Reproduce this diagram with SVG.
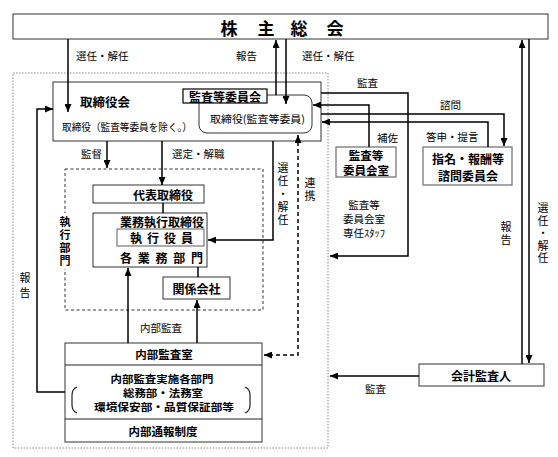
<svg xmlns="http://www.w3.org/2000/svg" width="558" height="457" viewBox="0 0 558 457">
<defs>
<marker id="arr" markerUnits="userSpaceOnUse" markerWidth="8" markerHeight="7" refX="8" refY="3.5" orient="auto-start-reverse"><path d="M0,0 L8,3.5 L0,7 z" fill="#000"/></marker>
</defs>
<style>
text{font-family:"Noto Sans CJK JP","Noto Sans CJK SC",sans-serif;fill:#000;dominant-baseline:central}
.b{font-weight:bold}
.box{fill:#fff;stroke:#333;stroke-width:1}
.gbox{fill:#fff;stroke:#777;stroke-width:1.3}
.ln{fill:none;stroke:#000;stroke-width:1.5}
.ar{marker-end:url(#arr)}
.dash{stroke-dasharray:4 3}
.lbl{font-size:10.5px}
.t12{font-size:12px;font-weight:bold;text-anchor:middle}
.t11{font-size:11.5px;font-weight:bold;text-anchor:middle}
.t10{font-size:10.5px;font-weight:bold;text-anchor:middle}
.v{font-size:10.5px;text-anchor:middle}
.vt{font-size:11px;writing-mode:vertical-rl;letter-spacing:2px}
</style>
<rect x="0" y="0" width="558" height="457" fill="#fff"/>
<rect id="outer" x="13" y="73" width="315" height="375" fill="none" stroke="#888" stroke-width="1" stroke-dasharray="1.5 1.5"/>

<g id="shareholders">
<rect class="box" x="13" y="14" width="535" height="25" stroke-width="1.2"/>
<text class="b" font-size="17" text-anchor="middle" x="229 266 299 335" y="27">株主総会</text>
</g>

<g id="board">
<rect class="box" x="53" y="82" width="268" height="59"/>
<text class="b" font-size="12.5" x="80" y="101">取締役会</text>
<text font-size="10.5" x="62" y="126" textLength="130" lengthAdjust="spacingAndGlyphs">取締役（監査等委員を除く。）</text>
</g>

<g id="audit-directors">
<rect class="box" x="199" y="95" width="113" height="38" rx="8"/>
<text font-size="10.5" x="210" y="118" textLength="95" lengthAdjust="spacingAndGlyphs">取締役(監査等委員)</text>
</g>

<g id="audit-committee">
<rect x="183" y="89" width="84" height="14" fill="#fff" stroke="#000" stroke-width="1.2"/>
<text class="t12" x="225" y="96.5">監査等委員会</text>
</g>

<g id="audit-office">
<rect class="gbox" x="336" y="147" width="60" height="30"/>
<text class="t11" x="366" y="155">監査等</text>
<text class="t11" x="366" y="170">委員会室</text>
</g>

<g id="nomination">
<rect class="gbox" x="423" y="147" width="89" height="38"/>
<text class="t12" x="468" y="158">指名・報酬等</text>
<text class="t12" x="468" y="175">諮問委員会</text>
</g>

<g id="exec-dept">
<rect x="65" y="169" width="198" height="141" fill="none" stroke="#333" stroke-width="1" stroke-dasharray="3 2.5"/>
<rect x="58" y="213" width="14" height="56" fill="#fff"/>
<text class="vt b" x="65" y="216">執行部門</text>
</g>

<g id="representative">
<rect class="box" x="93" y="185" width="111" height="18"/>
<text class="t12" x="163" y="194">代表取締役</text>
</g>

<g id="exec-directors">
<rect class="box" x="93" y="213" width="114" height="54"/>
<text class="t12" x="162" y="221">業務執行取締役</text>
<rect x="117" y="229" width="87" height="17" fill="#fff" stroke="#777" stroke-width="1.2"/>
<text class="t12" x="136 153 170 187" y="237.5">執行役員</text>
<text class="t12" x="126 143.75 161.5 179.25 197" y="257">各業務部門</text>
</g>

<g id="affiliates">
<rect class="box" x="163" y="277" width="67" height="22"/>
<text class="t12" x="196.5" y="288">関係会社</text>
</g>

<g id="internal-audit">
<rect class="box" x="65" y="343" width="197" height="99" stroke="#222"/>
<line x1="65" y1="365" x2="262" y2="365" stroke="#222" stroke-width="1"/>
<line x1="65" y1="419" x2="262" y2="419" stroke="#222" stroke-width="1"/>
<text class="t11" x="164" y="354">内部監査室</text>
<text class="t10" x="162" y="378" textLength="103" lengthAdjust="spacingAndGlyphs">内部監査実施各部門</text>
<text class="t10" x="163" y="392" textLength="80" lengthAdjust="spacingAndGlyphs">総務部・法務室</text>
<text class="t10" x="164" y="406" textLength="140" lengthAdjust="spacingAndGlyphs">環境保安部・品質保証部等</text>
<path d="M77,387 Q72,389 72,395 V405 Q72,411 77,413" fill="none" stroke="#222" stroke-width="1.2"/>
<path d="M245,387 Q250,389 250,395 V405 Q250,411 245,413" fill="none" stroke="#222" stroke-width="1.2"/>
<text class="t11" x="163" y="431">内部通報制度</text>
</g>

<g id="accounting-auditor">
<rect class="box" x="419" y="364" width="125" height="22"/>
<text class="t12" x="481" y="375">会計監査人</text>
</g>

<g id="connectors">
<path class="ln ar" d="M68,39 V112"/>
<path class="ln ar" d="M276,95 V40"/>
<path class="ln ar" d="M286,39 V104"/>
<path class="ln ar" d="M522,364 V40"/>
<path class="ln ar" d="M529,39 V363"/>
<path class="ln ar" d="M321,93 H408 V256 H330"/>
<path class="ln ar" d="M369,147 V105 H313"/>
<path class="ln ar" d="M321,114 H504 V146"/>
<path class="ln ar" d="M488,147 V122 H322"/>
<path class="ln ar" d="M107,141 V168"/>
<path class="ln ar" d="M162,141 V185"/>
<path class="ln" d="M163,203 V213" stroke-width="1"/>
<path class="ln" d="M198,267 V277" stroke-width="1"/>
<path class="ln ar" d="M273,141 V240 H208" stroke-width="1.8"/>
<path class="ln ar" d="M128,343 V268"/>
<path class="ln ar" d="M197,343 V300"/>
<path class="ln ar dash" d="M298,135 V355 H264" marker-start="url(#arr)"/>
<path class="ln ar" d="M65,392 H37 V109 H53"/>
<path class="ln ar" d="M419,376 H330"/>
</g>

<g id="labels">
<text class="lbl" x="76" y="55">選任・解任</text>
<text class="lbl" x="236" y="55">報告</text>
<text class="lbl" x="302" y="55">選任・解任</text>
<text class="lbl" x="357" y="82">監査</text>
<text class="lbl" x="440" y="104">諮問</text>
<text class="lbl" x="377" y="137">補佐</text>
<text class="lbl" x="426" y="136">答申・提言</text>
<text class="lbl" x="81" y="153">監督</text>
<text class="lbl" x="172" y="153">選定・解職</text>
<text class="lbl" x="140" y="327">内部監査</text>
<text class="lbl" x="365" y="388">監査</text>
<text class="v" x="364" y="204">監査等</text>
<text class="v" x="364" y="218">委員会室</text>
<text class="v" x="364" y="232">専任ｽﾀｯﾌ</text>
<text class="vt" x="506" y="221.5">報告</text>
<text class="vt" x="543" y="202.5" style="letter-spacing:1.5px">選任・解任</text>
<text class="vt" x="283" y="162.5">選任・解任</text>
<text class="vt" x="310" y="177.5">連携</text>
<text class="vt" x="25" y="272.5" style="letter-spacing:4px">報告</text>
</g>
</svg>
